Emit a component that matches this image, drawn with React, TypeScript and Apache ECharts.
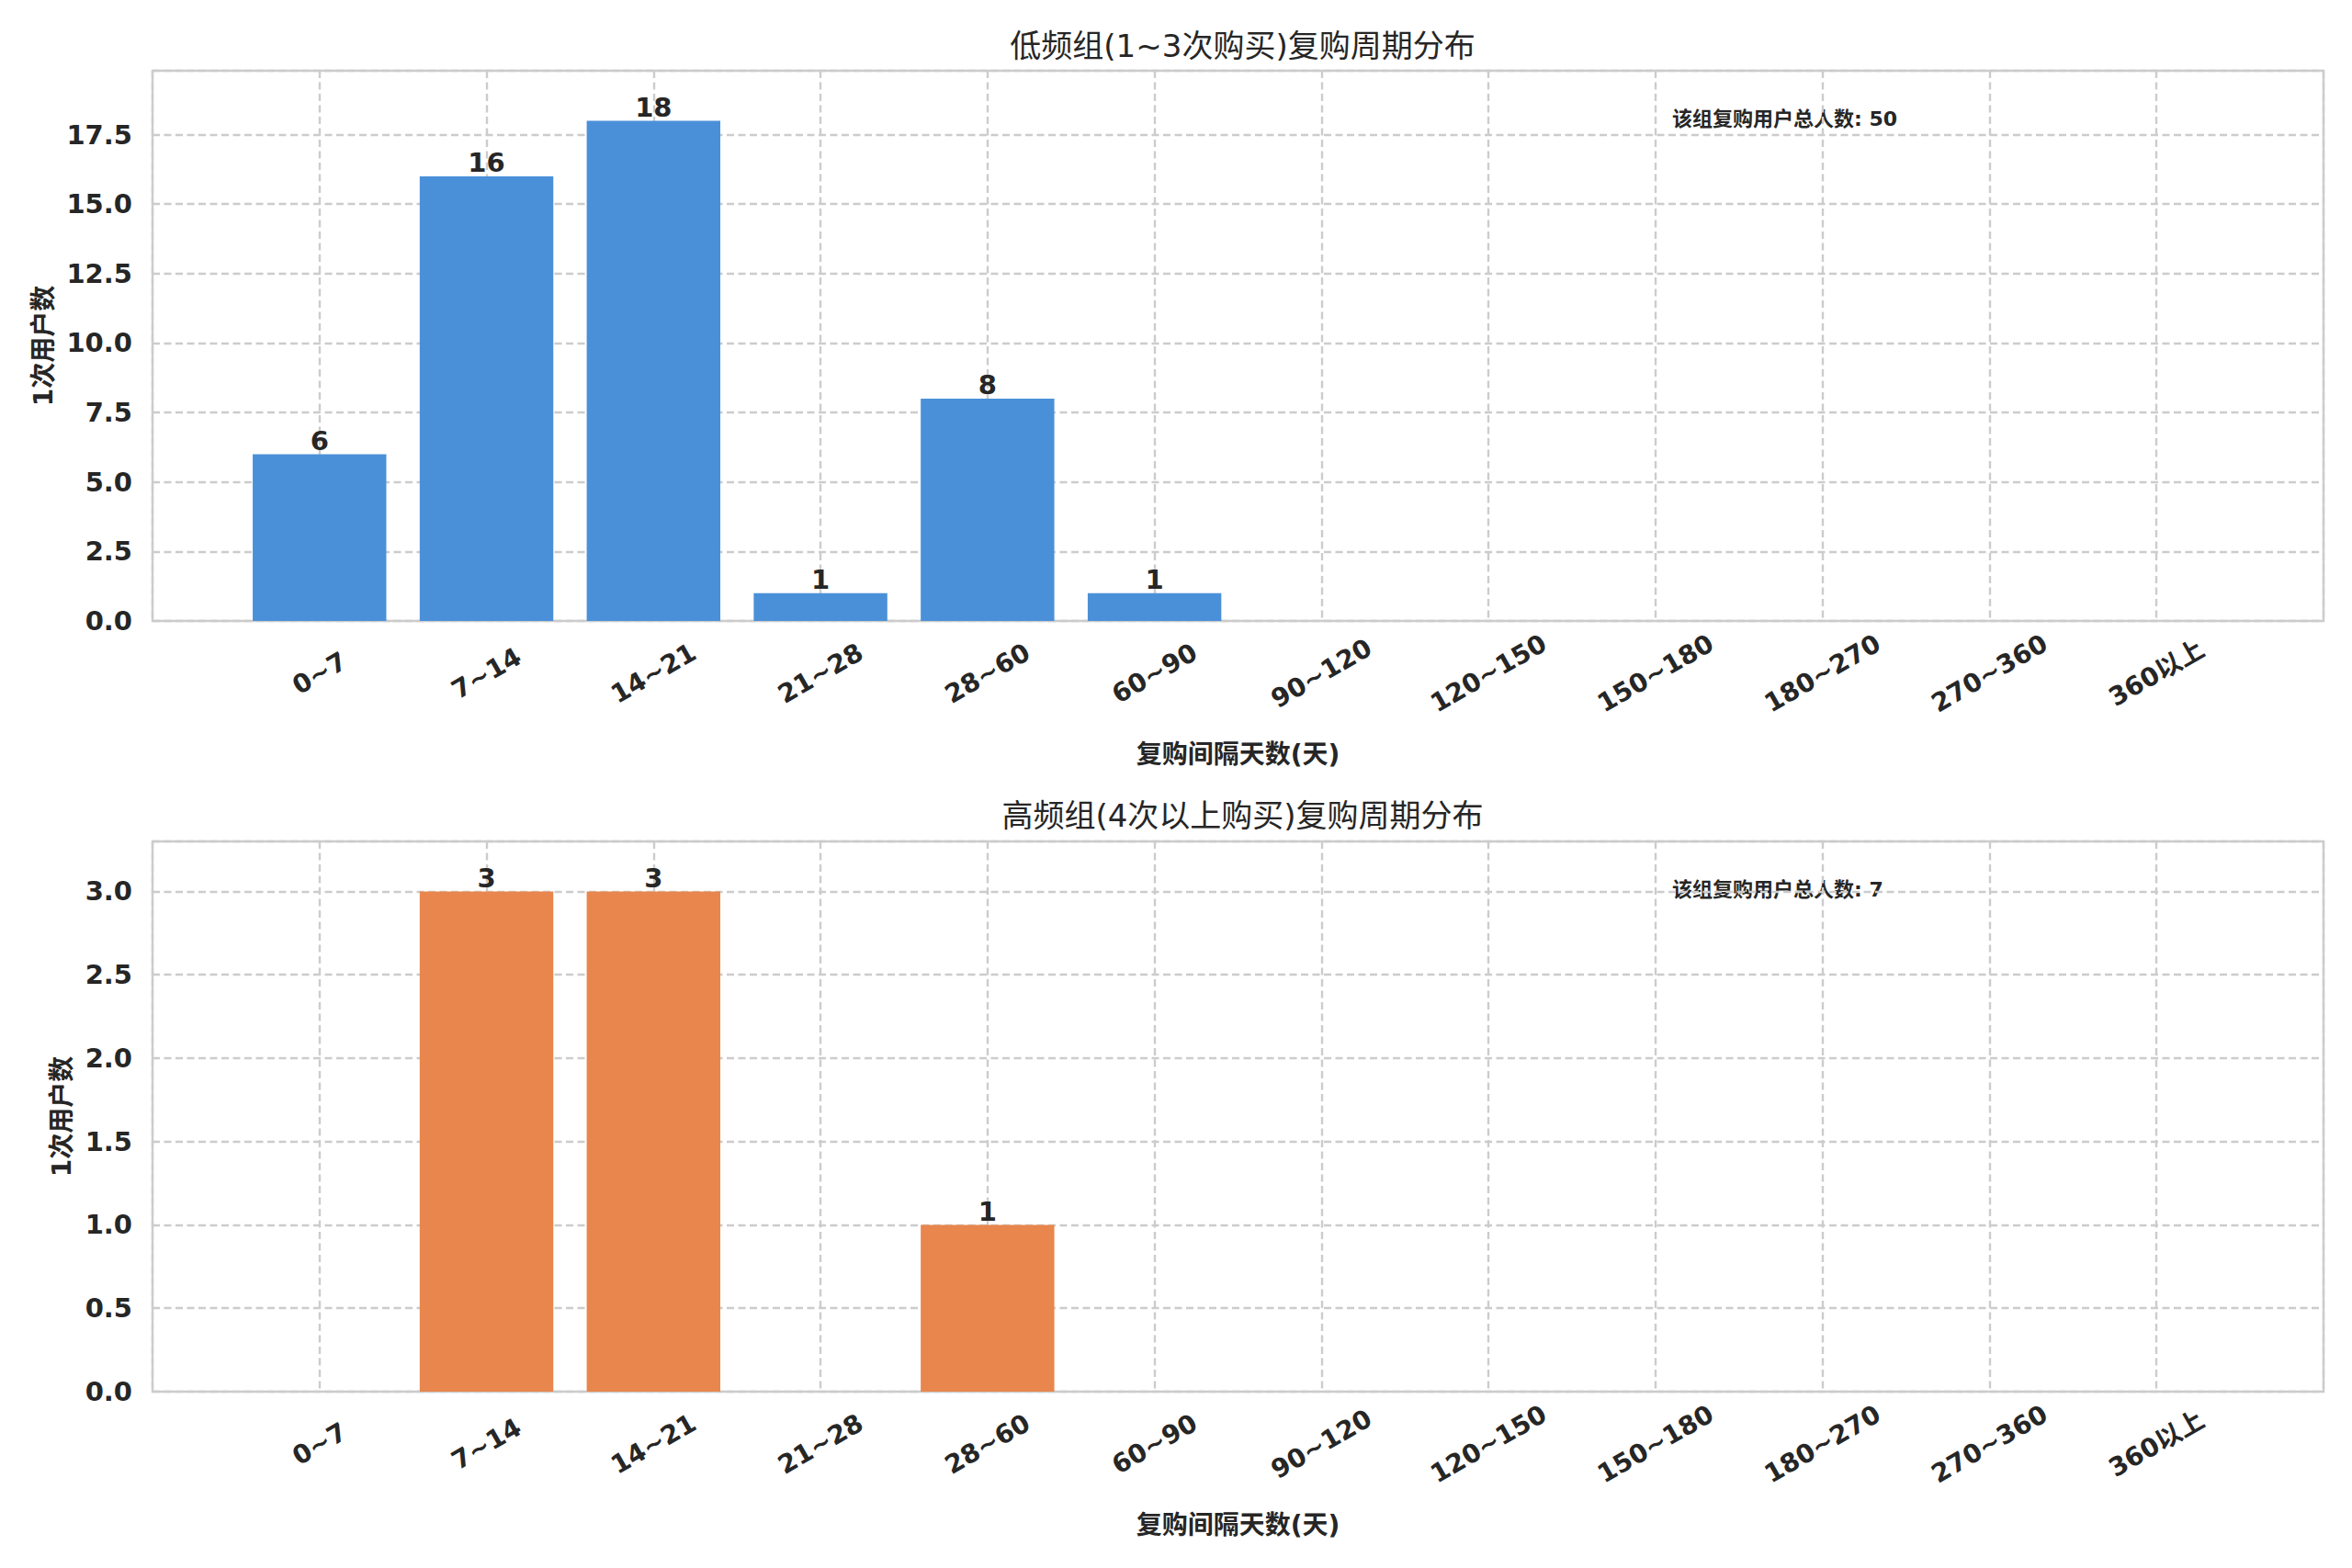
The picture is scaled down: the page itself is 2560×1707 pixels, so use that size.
import React, { useEffect, useRef } from "react";
import * as echarts from "echarts";

const categories = ["0~7", "7~14", "14~21", "21~28", "28~60", "60~90", "90~120", "120~150", "150~180", "180~270", "270~360", "360以上"];
const lowValues = [6, 16, 18, 1, 8, 1, 0, 0, 0, 0, 0, 0];
const highValues = [0, 3, 3, 0, 1, 0, 0, 0, 0, 0, 0, 0];
const lowTotal = 50;
const highTotal = 7;
const lowTitle = "低频组(1~3次购买)复购周期分布";
const highTitle = "高频组(4次以上购买)复购周期分布";
const xName = "复购间隔天数(天)";
const yName = "1次用户数";
const totalLabel = "该组复购用户总人数";
const lowYInterval = 2.5;
const highYInterval = 0.5;

const FONT = "DejaVu Sans, 'Noto Sans CJK SC', sans-serif";
const TXT = "#262626";
const GRIDC = "#cccccc";

export default function App() {
  const ref = useRef<HTMLDivElement>(null);
  useEffect(() => {
    if (!ref.current) return;
    const chart = echarts.init(ref.current, undefined, { renderer: "svg" });
    const gLeft = 166;
    const gWidth = 2363;
    const gHeight = 599;
    const tops = [77, 916];
    const barW = (gWidth / 13) * 0.8;
    const gridLine = { show: true, lineStyle: { color: GRIDC, type: [8, 4.5], width: 2.4 } };

    const mkX = (idx: number) => ({
      type: "value",
      gridIndex: idx,
      min: -1,
      max: 12,
      interval: 1,
      name: xName,
      nameLocation: "middle",
      nameGap: 131,
      nameTextStyle: { fontFamily: FONT, fontSize: 28, fontWeight: "bold", color: TXT },
      axisLine: { show: false },
      axisTick: { show: false },
      axisLabel: {
        formatter: (v: number) => categories[v] ?? "",
        rotate: 30,
        align: "center",
        verticalAlign: "middle",
        margin: 57,
        fontFamily: FONT,
        fontSize: 28,
        fontWeight: "bold",
        color: TXT,
        showMinLabel: false,
        showMaxLabel: false,
      },
      splitLine: gridLine,
    });

    const mkY = (idx: number, maxV: number, interval: number, gap: number) => ({
      type: "value",
      gridIndex: idx,
      min: 0,
      max: Math.round(maxV * 1.1 * 100) / 100,
      interval,
      name: yName,
      nameLocation: "middle",
      nameRotate: 90,
      nameGap: gap,
      nameTextStyle: { fontFamily: FONT, fontSize: 28, fontWeight: "bold", color: TXT },
      axisLine: { show: false },
      axisTick: { show: false },
      axisLabel: {
        formatter: (v: number) => v.toFixed(1),
        margin: 22,
        fontFamily: FONT,
        fontSize: 29,
        fontWeight: "bold",
        color: TXT,
        showMaxLabel: false,
      },
      splitLine: gridLine,
    });

    const mkSeries = (idx: number, vals: number[], color: string) => ({
      type: "bar",
      xAxisIndex: idx,
      yAxisIndex: idx,
      data: vals.map((v, i) => [i, v]),
      barWidth: barW,
      itemStyle: { color },
      label: {
        show: true,
        position: "top",
        distance: 0,
        formatter: (p: any) => (p.value[1] > 0 ? String(p.value[1]) : ""),
        fontFamily: FONT,
        fontSize: 29,
        fontWeight: "bold",
        color: TXT,
      },
    });

    const lowMax = Math.max(...lowValues);
    const highMax = Math.max(...highValues);

    chart.setOption({
      animation: false,
      backgroundColor: "#ffffff",
      title: [
        {
          text: lowTitle,
          left: gLeft + gWidth / 2,
          top: 28,
          textAlign: "center",
          textStyle: { fontFamily: FONT, fontSize: 34, fontWeight: "normal", color: TXT },
        },
        {
          text: highTitle,
          left: gLeft + gWidth / 2,
          top: 866,
          textAlign: "center",
          textStyle: { fontFamily: FONT, fontSize: 34, fontWeight: "normal", color: TXT },
        },
      ],
      grid: tops.map((t) => ({
        left: gLeft,
        top: t,
        width: gWidth,
        height: gHeight,
        show: true,
        borderColor: GRIDC,
        borderWidth: 2.4,
        backgroundColor: "transparent",
      })),
      xAxis: [mkX(0), mkX(1)],
      yAxis: [mkY(0, lowMax, lowYInterval, 101), mkY(1, highMax, highYInterval, 81)],
      series: [mkSeries(0, lowValues, "#4a90d9"), mkSeries(1, highValues, "#e8864d")],
      graphic: [
        {
          type: "text",
          x: gLeft + gWidth * 0.7,
          y: tops[0] + 52,
          style: {
            text: `${totalLabel}: ${lowTotal}`,
            fontFamily: FONT,
            fontSize: 22,
            fontWeight: "bold",
            fill: TXT,
            textVerticalAlign: "middle",
            verticalAlign: "middle",
          },
        },
        {
          type: "text",
          x: gLeft + gWidth * 0.7,
          y: tops[1] + 52,
          style: {
            text: `${totalLabel}: ${highTotal}`,
            fontFamily: FONT,
            fontSize: 22,
            fontWeight: "bold",
            fill: TXT,
            textVerticalAlign: "middle",
            verticalAlign: "middle",
          },
        },
      ],
    });
    return () => chart.dispose();
  }, []);
  return (
    <div
      ref={ref}
      style={{ position: "absolute", left: 0, top: 0, width: 2560, height: 1707, background: "#fff" }}
    />
  );
}
